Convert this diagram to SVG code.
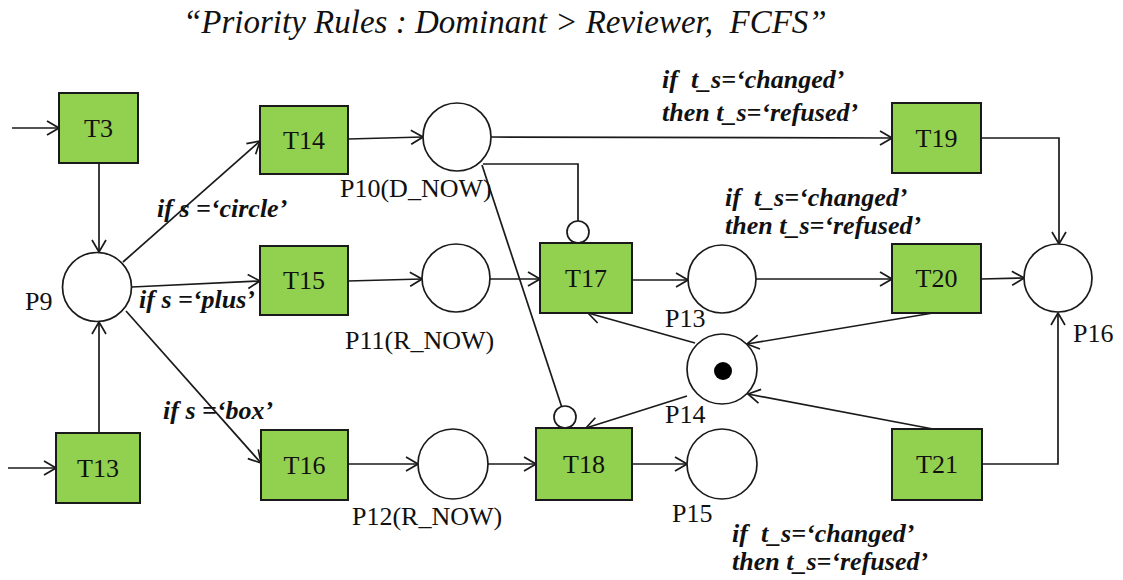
<svg xmlns="http://www.w3.org/2000/svg" width="1123" height="580" viewBox="0 0 1123 580">
  <style>
    .trans { fill: #92D050; stroke: #1a1a1a; stroke-width: 2; }
    .place { fill: #ffffff; stroke: #1a1a1a; stroke-width: 1.7; }
    .inhib { fill: #ffffff; stroke: #1a1a1a; stroke-width: 1.7; }
    .arc { fill: none; stroke: #1a1a1a; stroke-width: 1.7; }
    .arr { marker-end: url(#open); }
    text { font-family: 'Liberation Serif', 'Times New Roman', serif; fill: #111; }
    .lbl { font-size: 26px; white-space: pre; }
    .tlbl { font-size: 26px; text-anchor: middle; dominant-baseline: central; }
    .cond { font-size: 26px; font-style: italic; font-weight: bold; white-space: pre; }
    .title { font-size: 33px; font-style: italic; white-space: pre; }
  </style>
  <defs>
    <marker id="open" viewBox="0 0 14 16" refX="13" refY="8" markerWidth="14" markerHeight="16" markerUnits="userSpaceOnUse" orient="auto">
      <path d="M1,1 L13,8 L1,15" fill="none" stroke="#1a1a1a" stroke-width="1.7"/>
    </marker>
  </defs>

  <text class="title" x="183" y="33">“Priority Rules : Dominant &gt; Reviewer,  FCFS”</text>

  <!-- arcs -->
  <g id="connectors">
    <line class="arc arr" x1="12" y1="128" x2="59" y2="128"/>
    <line class="arc arr" x1="8" y1="468" x2="56" y2="468"/>
    <line class="arc arr" x1="99" y1="163" x2="99" y2="252"/>
    <line class="arc arr" x1="99" y1="433" x2="99" y2="322"/>
    <line class="arc arr" x1="123" y1="262" x2="260" y2="141"/>
    <line class="arc arr" x1="132" y1="287" x2="260" y2="281"/>
    <line class="arc arr" x1="126" y1="311" x2="261" y2="463"/>
    <line class="arc arr" x1="348" y1="139" x2="423" y2="137"/>
    <line class="arc arr" x1="348" y1="281" x2="422" y2="279"/>
    <line class="arc arr" x1="348" y1="464" x2="418" y2="464"/>
    <line class="arc arr" x1="491" y1="137" x2="892" y2="138"/>
    <polyline class="arc" points="483,164 578,164 578,221"/>
    <line class="arc" x1="482" y1="165" x2="561.6" y2="406.5"/>
    <line class="arc arr" x1="490" y1="279" x2="540" y2="279"/>
    <line class="arc arr" x1="632" y1="280" x2="688" y2="280"/>
    <line class="arc arr" x1="488" y1="464" x2="536" y2="464"/>
    <line class="arc arr" x1="632" y1="464" x2="687" y2="464"/>
    <line class="arc arr" x1="756" y1="279" x2="892" y2="279"/>
    <line class="arc arr" x1="981" y1="279" x2="1024" y2="278"/>
    <polyline class="arc arr" points="981,138 1059,138 1059,244"/>
    <polyline class="arc arr" points="982,464 1058,464 1058,313"/>
    <line class="arc arr" x1="933" y1="313" x2="747" y2="344"/>
    <line class="arc arr" x1="933" y1="429" x2="748" y2="394"/>
    <line class="arc arr" x1="695" y1="343" x2="588" y2="313"/>
    <line class="arc arr" x1="687" y1="396" x2="586" y2="428"/>
    <!-- inhibitor heads -->
    <circle class="inhib" cx="578" cy="232" r="11"/>
    <circle class="inhib" cx="565" cy="417" r="11"/>
  </g>

  <!-- transitions -->
  <g id="T3"><rect class="trans" x="59" y="93" width="79" height="70"/><text class="tlbl" x="98.5" y="128">T3</text></g>
  <g id="T13"><rect class="trans" x="56" y="433" width="84" height="70"/><text class="tlbl" x="98" y="468">T13</text></g>
  <g id="T14"><rect class="trans" x="260" y="106" width="88" height="68"/><text class="tlbl" x="304" y="140">T14</text></g>
  <g id="T15"><rect class="trans" x="260" y="246" width="88" height="69"/><text class="tlbl" x="304" y="280.5">T15</text></g>
  <g id="T16"><rect class="trans" x="261" y="430" width="87" height="70"/><text class="tlbl" x="304.5" y="465">T16</text></g>
  <g id="T17"><rect class="trans" x="540" y="243" width="92" height="70"/><text class="tlbl" x="586" y="278">T17</text></g>
  <g id="T18"><rect class="trans" x="536" y="428" width="96" height="72"/><text class="tlbl" x="584" y="464">T18</text></g>
  <g id="T19"><rect class="trans" x="892" y="103" width="89" height="70"/><text class="tlbl" x="936.5" y="138">T19</text></g>
  <g id="T20"><rect class="trans" x="892" y="244" width="89" height="69"/><text class="tlbl" x="936.5" y="278.5">T20</text></g>
  <g id="T21"><rect class="trans" x="892" y="429" width="90" height="71"/><text class="tlbl" x="937" y="464.5">T21</text></g>

  <!-- places -->
  <g id="P9"><circle class="place" cx="97" cy="287" r="34.5"/><text class="lbl" x="25" y="310">P9</text></g>
  <g id="P10"><circle class="place" cx="457" cy="137" r="34"/><text class="lbl" x="340" y="197">P10(D_NOW)</text></g>
  <g id="P11"><circle class="place" cx="456" cy="278" r="34"/><text class="lbl" x="345" y="349">P11(R_NOW)</text></g>
  <g id="P12"><circle class="place" cx="453" cy="464" r="35"/><text class="lbl" x="352" y="525">P12(R_NOW)</text></g>
  <g id="P13"><circle class="place" cx="722" cy="279" r="34"/><text class="lbl" x="665" y="327">P13</text></g>
  <g id="P14"><circle class="place" cx="722" cy="369" r="35"/><circle cx="723" cy="371" r="9" fill="#000"/><text class="lbl" x="665" y="423">P14</text></g>
  <g id="P15"><circle class="place" cx="722" cy="464" r="35"/><text class="lbl" x="672" y="522">P15</text></g>
  <g id="P16"><circle class="place" cx="1058" cy="278" r="34"/><text class="lbl" x="1073" y="342">P16</text></g>

  <!-- guard annotations -->
  <g id="guards">
    <text class="cond" x="157" y="217">if s =‘circle’</text>
    <text class="cond" x="139" y="308">if s =‘plus’</text>
    <text class="cond" x="163" y="419">if s =‘box’</text>
    <text class="cond" x="662" y="88">if  t_s=‘changed’</text>
    <text class="cond" x="662" y="121">then t_s=‘refused’</text>
    <text class="cond" x="725" y="206">if  t_s=‘changed’</text>
    <text class="cond" x="725" y="234">then t_s=‘refused’</text>
    <text class="cond" x="732" y="542">if  t_s=‘changed’</text>
    <text class="cond" x="732" y="570">then t_s=‘refused’</text>
  </g>
</svg>
